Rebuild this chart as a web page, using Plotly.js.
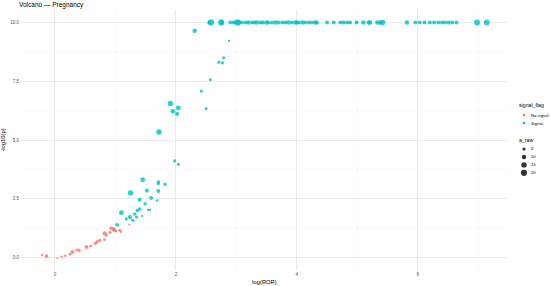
<!DOCTYPE html>
<html>
<head>
<meta charset="utf-8">
<script src="https://cdn.plot.ly/plotly-3.0.1.min.js"></script>
<style>
  html, body { margin: 0; padding: 0; background: #fff; }
  #chart { width: 550px; height: 286px; }
</style>
</head>
<body>
<div id="chart"></div>
<script>
// No signal points: log(ROR), -log10(p), a_raw
var noSigX = [-0.21, -0.14, 0.04, 0.11, 0.17, 0.25, 0.29, 0.36, 0.40, 0.52, 0.59, 0.67, 0.70, 0.74, 0.82, 0.82, 0.85, 0.91, 0.93, 0.97, 0.98, 1.01, 1.07, 1.09, 1.23];
var noSigY = [0.11, 0.06, -0.03, 0.04, 0.08, 0.14, 0.24, 0.32, 0.30, 0.45, 0.49, 0.61, 0.68, 0.73, 0.76, 1.03, 0.96, 1.07, 1.24, 1.22, 1.16, 1.13, 1.16, 1.10, 1.39];
var noSigA = [3, 7, 2, 3, 3, 4, 8, 4, 6, 8, 5, 6, 5, 6, 4, 8, 6, 5, 8, 8, 6, 4, 4, 3, 2];

// Signal points below the cap
var sigX = [1.03, 1.10, 1.18, 1.24, 1.28, 1.30, 1.32, 1.35, 1.36, 1.40, 1.44, 1.54, 1.57, 1.40, 1.49, 1.59, 1.69, 1.25, 1.52, 1.71, 1.45, 1.71, 1.71, 1.82, 1.72, 1.98, 2.04, 1.91, 2.04, 1.95, 2.02, 2.50, 2.42, 2.57, 2.71, 2.77, 2.79, 2.88, 2.31];
var sigY = [1.39, 1.91, 1.64, 1.72, 1.60, 1.57, 1.85, 1.72, 2.00, 2.06, 1.77, 2.02, 2.03, 2.46, 2.29, 2.53, 2.43, 2.75, 2.85, 2.83, 3.31, 3.15, 3.22, 3.12, 5.34, 4.11, 3.97, 6.55, 6.36, 6.22, 6.11, 6.34, 7.08, 7.56, 8.31, 8.28, 8.50, 9.21, 9.65];
var sigA = [8, 12, 6, 9, 3, 3, 6, 6, 6, 8, 3, 3, 3, 8, 6, 8, 3, 15, 8, 8, 12, 6, 6, 6, 15, 5, 5, 15, 12, 12, 9, 5, 5, 5, 5, 5, 5, 3, 10];

// Signal points capped at -log10(p) = 10
var capX = [2.55, 2.58, 2.75, 2.76, 2.90, 2.95, 2.98, 3.02, 3.04, 3.09, 3.15, 3.20, 3.26, 3.30, 3.34, 3.40, 3.44, 3.50, 3.53, 3.59, 3.65, 3.70, 3.76, 3.81, 3.86, 3.92, 3.98, 4.00, 4.03, 4.09, 4.14, 4.20, 4.25, 4.31, 4.33, 4.50, 4.61, 4.72, 4.77, 4.83, 4.88, 4.99, 5.10, 5.19, 5.21, 5.33, 5.38, 5.42, 5.82, 5.96, 6.03, 6.11, 6.20, 6.27, 6.34, 6.40, 6.45, 6.51, 6.57, 6.64, 6.98, 7.14];
var capA = [8, 20, 20, 8, 8, 8, 8, 20, 10, 8, 8, 10, 8, 8, 10, 8, 8, 10, 8, 8, 10, 8, 8, 8, 10, 8, 10, 8, 8, 10, 8, 8, 8, 10, 8, 8, 8, 8, 8, 8, 8, 8, 10, 10, 10, 10, 10, 15, 10, 8, 8, 8, 8, 8, 8, 8, 8, 8, 8, 8, 18, 18];
var capY = capX.map(function () { return 10; });

var flagLabels = ['No signal', 'Signal'];
var flagColors = ['#F8766D', '#00BFC4'];
var sizeBreaks = [5, 10, 15, 20];

function sz(a) { return 1.4 * Math.sqrt(a); }

var allSigX = sigX.concat(capX);
var allSigY = sigY.concat(capY);
var allSigA = sigA.concat(capA);

var data = [
  {
    x: noSigX, y: noSigY, type: 'scatter', mode: 'markers', name: flagLabels[0],
    marker: { color: flagColors[0], size: noSigA.map(sz), opacity: 0.8, line: { width: 0 } },
    hoverinfo: 'x+y'
  },
  {
    x: allSigX, y: allSigY, type: 'scatter', mode: 'markers', name: flagLabels[1],
    marker: { color: flagColors[1], size: allSigA.map(sz), opacity: 0.8, line: { width: 0 } },
    hoverinfo: 'x+y'
  }
];

// plot area in pixels, used to place the hand-made legend
var L = 19.5, R = 509, T = 9.5, B = 270.5;
function px(x) { return (x - L) / (R - L); }
function py(y) { return (B - y) / (B - T); }

var annotations = [];
var shapes = [];
function label(text, x, y, size) {
  annotations.push({
    text: text, xref: 'paper', yref: 'paper', x: px(x), y: py(y),
    xanchor: 'left', yanchor: 'middle', showarrow: false,
    font: { size: size, color: '#000' }
  });
}
function dot(x, y, d, color) {
  shapes.push({
    type: 'circle', xref: 'paper', yref: 'paper', xsizemode: 'pixel', ysizemode: 'pixel',
    xanchor: px(x), yanchor: py(y), x0: -d / 2, x1: d / 2, y0: -d / 2, y1: d / 2,
    fillcolor: color, line: { width: 0 }
  });
}

label('signal_flag', 517, 105, 5.2);
flagLabels.forEach(function (t, i) {
  dot(524, 115 + i * 8, 2.6, flagColors[i]);
  label(t, 529, 115 + i * 8, 4.2);
});
label('a_raw', 517, 140, 5.2);
sizeBreaks.forEach(function (b, i) {
  dot(524, 149 + i * 8, sz(b), '#333333');
  label(String(b), 529, 149 + i * 8, 4.2);
});

var layout = {
  width: 550, height: 286,
  margin: { l: L, r: 550 - R, t: T, b: 286 - B, pad: 0 },
  paper_bgcolor: '#fff', plot_bgcolor: '#fff',
  font: { family: 'Liberation Sans, Arial, sans-serif', color: '#000' },
  showlegend: false,
  title: {
    text: 'Volcano — Pregnancy', x: 19 / 550, xref: 'container', xanchor: 'left',
    y: 1 - 5 / 286, yref: 'container', yanchor: 'middle',
    font: { size: 6.5, color: '#000' }
  },
  xaxis: {
    range: [-0.578, 7.508], tickvals: [0, 2, 4, 6], ticks: '',
    showgrid: true, gridcolor: '#ebebeb', gridwidth: 1, zeroline: false, showline: false,
    minor: { tickvals: [1, 3, 5, 7], showgrid: true, gridcolor: '#f4f4f4', gridwidth: 0.5 },
    tickfont: { size: 4.5, color: '#4d4d4d' },
    title: { text: 'log(ROR)', font: { size: 5.8, color: '#000' }, standoff: 4 },
    automargin: false
  },
  yaxis: {
    range: [-0.53, 10.53], tickvals: [0, 2.5, 5, 7.5, 10], ticktext: ['0.0', '2.5', '5.0', '7.5', '10.0'], ticks: '',
    showgrid: true, gridcolor: '#ebebeb', gridwidth: 1, zeroline: false, showline: false,
    minor: { tickvals: [1.25, 3.75, 6.25, 8.75], showgrid: true, gridcolor: '#f4f4f4', gridwidth: 0.5 },
    tickfont: { size: 4.5, color: '#4d4d4d' },
    title: { text: '-log10(p)', font: { size: 5.8, color: '#000' }, standoff: 4 },
    automargin: false
  },
  annotations: annotations,
  shapes: shapes
};

Plotly.newPlot('chart', data, layout, { displayModeBar: false, staticPlot: true });
</script>
</body>
</html>
